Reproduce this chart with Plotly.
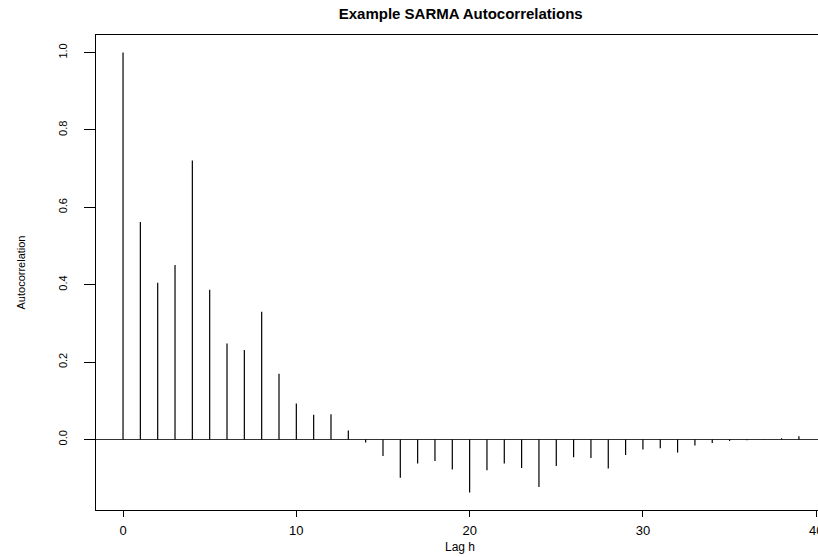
import plotly.graph_objects as go

# Sample autocorrelation function of a seasonal ARMA series, lags 0..39
lags = list(range(40))
acf = [
    1.000, 0.562, 0.405, 0.451, 0.721, 0.387, 0.248, 0.231, 0.330, 0.170,
    0.093, 0.064, 0.065, 0.023, -0.008, -0.043, -0.099, -0.062, -0.056, -0.078,
    -0.137, -0.080, -0.062, -0.074, -0.123, -0.069, -0.046, -0.048, -0.075, -0.040,
    -0.026, -0.023, -0.034, -0.016, -0.009, -0.004, -0.002, -0.001, 0.003, 0.008,
]
x_ticks = [0, 10, 20, 30, 40]
y_ticks = [0.0, 0.2, 0.4, 0.6, 0.8, 1.0]

title_text = "Example SARMA Autocorrelations"
x_label = "Lag h"
y_label = "Autocorrelation"

FONT = "Liberation Sans, Arial, Helvetica, sans-serif"

# vertical spikes from zero to each autocorrelation value
spike_x, spike_y = [], []
for k, r in zip(lags, acf):
    spike_x += [k, k, None]
    spike_y += [0, r, None]

# axis limits padded by 4% of the data span on each side
x_lo = min(lags) - 0.04 * (max(lags) - min(lags))
y_span = max(acf) - min(acf)
y_lo = min(acf) - 0.04 * y_span
y_hi = max(acf) + 0.04 * y_span

W, H = 818, 557
L, R, T, B = 96, 0, 35, 47
px_per_lag = 17.33
x_hi = x_lo + (W - L - R) / px_per_lag

fig = go.Figure()
fig.add_trace(go.Scatter(
    x=spike_x, y=spike_y, mode="lines",
    line=dict(color="black", width=1.2),
    hoverinfo="skip", showlegend=False,
))

fig.update_layout(
    width=W, height=H,
    margin=dict(l=L, r=R, t=T, b=B, autoexpand=False),
    paper_bgcolor="white", plot_bgcolor="white",
    font=dict(family=FONT, color="black"),
    showlegend=False,
    title=dict(
        text=title_text, x=460.7 / W, xanchor="center",
        y=1 - 13.5 / H, yanchor="middle", yref="container",
        font=dict(size=15, family=FONT, weight="bold", color="black"),
    ),
    xaxis=dict(
        range=[x_lo, x_hi], tickvals=x_ticks, ticktext=[str(v) for v in x_ticks],
        showgrid=False, zeroline=False,
        showline=True, mirror=True, linecolor="black", linewidth=1,
        ticks="outside", ticklen=6, tickcolor="black", tickwidth=1,
        tickfont=dict(size=13, family=FONT, color="black"),
        ticklabelstandoff=2, ticklabeloverflow="allow",
    ),
    yaxis=dict(
        range=[y_lo, y_hi], tickvals=y_ticks, ticktext=[f"{v:.1f}" for v in y_ticks],
        tickangle=-90,
        showgrid=False, zeroline=True, zerolinecolor="#333333", zerolinewidth=1,
        showline=True, mirror=False, linecolor="black", linewidth=1,
        ticks="outside", ticklen=11, tickcolor="black", tickwidth=1,
        tickfont=dict(size=11, family=FONT, color="black"),
        ticklabelstandoff=13,
    ),
    annotations=[
        dict(text=x_label, xref="paper", yref="paper",
             x=(460 - L) / (W - L - R), y=(H - B - 547) / (H - T - B),
             xanchor="center", yanchor="middle", showarrow=False,
             font=dict(size=12, family=FONT, color="black")),
        dict(text=y_label, xref="paper", yref="paper",
             x=(20 - L) / (W - L - R), y=0.5, textangle=-90,
             xanchor="center", yanchor="middle", showarrow=False,
             font=dict(size=11, family=FONT, color="black")),
    ],
)

fig.write_html("out.html")
